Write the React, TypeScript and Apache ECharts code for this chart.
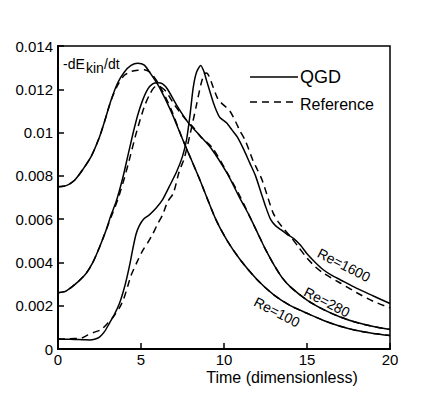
import React, { useEffect, useRef } from "react";
import * as echarts from "echarts";

const xTicks = [0, 5, 10, 15, 20];
const yMax = 0.014;

const re100QGD: [number, number][] = [
  [0, 0.0075], [0.5, 0.00755], [1, 0.0078], [1.5, 0.0083], [2, 0.0089], [2.5, 0.0098],
  [2.8, 0.0105], [3.2, 0.0115], [3.6, 0.0123], [4, 0.0128], [4.4, 0.0131], [4.8, 0.0132],
  [5.2, 0.01312], [5.6, 0.0127], [6.1, 0.0121], [6.8, 0.011], [7.5, 0.0097], [8.5, 0.0079],
  [9.5, 0.006], [10.2, 0.005], [11, 0.0041], [12, 0.0032], [13, 0.0025], [14, 0.002],
  [15, 0.00165], [16, 0.00132], [17, 0.00105], [18, 0.00085], [19, 0.00072], [20, 0.00062],
];
const re100Ref: [number, number][] = [
  [0, 0.0075], [0.5, 0.00755], [1, 0.0078], [1.5, 0.0083], [2, 0.0089], [2.5, 0.0098],
  [2.8, 0.0105], [3.2, 0.0115], [3.6, 0.0122], [4, 0.01265], [4.4, 0.01282], [4.8, 0.01288],
  [5.2, 0.0129], [5.6, 0.01275], [6.1, 0.0122], [6.8, 0.0111], [7.5, 0.0097], [8.5, 0.0079],
  [9.5, 0.006], [10.2, 0.005], [11, 0.0041], [12, 0.0032], [13, 0.0025], [14, 0.002],
  [15, 0.00165], [16, 0.00132], [17, 0.00105], [18, 0.00085], [19, 0.00072], [20, 0.00062],
];
const re280QGD: [number, number][] = [
  [0, 0.0026], [0.4, 0.00265], [0.8, 0.00285], [1.2, 0.0031], [1.7, 0.0035], [2.1, 0.004],
  [2.5, 0.0047], [2.9, 0.0055], [3.2, 0.0062], [3.5, 0.0068], [3.9, 0.0079], [4.2, 0.0089],
  [4.5, 0.0099], [4.8, 0.0108], [5.1, 0.0115], [5.4, 0.012], [5.7, 0.01225], [6, 0.0123],
  [6.3, 0.01225], [6.6, 0.012], [7.2, 0.0112], [7.9, 0.0104], [8.5, 0.0099], [9.2, 0.0093],
  [10.2, 0.0081], [11, 0.0069], [11.5, 0.0062], [12, 0.0054], [12.5, 0.0046], [13, 0.0039],
  [13.5, 0.0033], [14, 0.00287], [15, 0.00226], [16, 0.00182], [17, 0.00148], [18, 0.00122],
  [19, 0.00104], [20, 0.0009],
];
const re280Ref: [number, number][] = [
  [0, 0.0026], [0.4, 0.00265], [0.8, 0.00285], [1.2, 0.0031], [1.7, 0.0035], [2.1, 0.004],
  [2.5, 0.0047], [2.9, 0.0055], [3.3, 0.0063], [3.6, 0.0069], [4, 0.0079], [4.35, 0.0089],
  [4.65, 0.0098], [4.95, 0.0106], [5.25, 0.0113], [5.55, 0.0118], [5.85, 0.0121], [6.15, 0.0121],
  [6.5, 0.0119], [7, 0.0113], [7.6, 0.0107], [8.2, 0.0102], [8.6, 0.0098], [9.3, 0.0093],
  [10.3, 0.008], [11, 0.007], [11.5, 0.0062], [12, 0.0054], [12.5, 0.0046], [13, 0.0039],
  [13.5, 0.0033], [14, 0.00287], [15, 0.00226], [16, 0.00182], [17, 0.00148], [18, 0.00122],
  [19, 0.00104], [20, 0.0009],
];
const re1600QGD: [number, number][] = [
  [0, 0.00046], [0.5, 0.00045], [1, 0.00044], [1.5, 0.00043], [1.9, 0.00042], [2.2, 0.00045],
  [2.5, 0.00055], [2.8, 0.0008], [3.1, 0.0012], [3.4, 0.0016], [3.7, 0.0021], [3.95, 0.0027],
  [4.15, 0.0033], [4.35, 0.004], [4.5, 0.0046], [4.7, 0.0053], [4.9, 0.0057], [5.15, 0.006],
  [5.5, 0.0062], [5.9, 0.0065], [6.3, 0.0069], [6.7, 0.0075], [7.15, 0.0082], [7.5, 0.0089],
  [7.75, 0.0097], [7.95, 0.0108], [8.15, 0.0121], [8.35, 0.0128], [8.6, 0.0131], [8.8, 0.0128],
  [8.95, 0.0124], [9.15, 0.0119], [9.35, 0.0114], [9.55, 0.011], [9.75, 0.0107], [10.15, 0.01045],
  [10.5, 0.0101], [10.8, 0.0098], [11.2, 0.0092], [11.55, 0.0086], [11.9, 0.008], [12.2, 0.0073],
  [12.5, 0.0066], [12.8, 0.006], [13.1, 0.0057], [13.45, 0.0055], [13.8, 0.0053], [14.2, 0.0051],
  [14.6, 0.0048], [15, 0.0044], [15.5, 0.004], [16, 0.00365], [16.5, 0.0034], [17, 0.0032],
  [18, 0.0028], [19, 0.00245], [20, 0.0021],
];
const re1600Ref: [number, number][] = [
  [0, 0.00046], [0.6, 0.00047], [1, 0.00048], [1.4, 0.0005], [1.8, 0.00065], [2.2, 0.00078],
  [2.6, 0.0009], [3, 0.0012], [3.35, 0.0015], [3.7, 0.0019], [3.95, 0.0023], [4.2, 0.0029],
  [4.4, 0.0034], [4.75, 0.004], [5.1, 0.00455], [5.4, 0.0049], [5.7, 0.0053], [5.95, 0.0057],
  [6.3, 0.0062], [6.6, 0.0068], [6.95, 0.0072], [7.3, 0.0082], [7.6, 0.0088], [7.95, 0.0099],
  [8.35, 0.0113], [8.6, 0.0122], [8.8, 0.0127], [8.95, 0.01275], [9.1, 0.0126], [9.3, 0.0122],
  [9.6, 0.0116], [9.8, 0.0114], [10.35, 0.011], [10.7, 0.0105], [10.95, 0.0101], [11.3, 0.0096],
  [11.75, 0.0087], [12, 0.0083], [12.3, 0.0078], [12.6, 0.0071], [12.95, 0.0063], [13.25, 0.0059],
  [13.55, 0.0056], [14, 0.0052], [14.5, 0.0047], [15, 0.0042], [15.5, 0.0038], [16, 0.0035],
  [17, 0.00305], [18, 0.0026], [19, 0.0022], [20, 0.0019],
];

const legendLabels = ["QGD", "Reference"];
const curveLabels = ["Re=100", "Re=280", "Re=1600"];
const xName = "Time (dimensionless)";
const FONT = "'Liberation Sans', Arial, sans-serif";

export default function App() {
  const ref = useRef<HTMLDivElement>(null);
  useEffect(() => {
    if (!ref.current) return;
    const chart = echarts.init(ref.current, null, { renderer: "svg" });
    const solid = (data: [number, number][]) => ({
      type: "line",
      data,
      symbol: "none",
      smooth: 0.25,
      lineStyle: { color: "#000", width: 1.5, type: "solid" },
      z: 3,
    });
    const dashed = (data: [number, number][]) => ({
      type: "line",
      data,
      symbol: "none",
      smooth: 0.25,
      lineStyle: { color: "#000", width: 1.5, type: [7, 5] },
      z: 2,
    });
    const rot = (-27 * Math.PI) / 180;
    chart.setOption({
      animation: false,
      backgroundColor: "#fff",
      grid: {
        left: 58, right: 54, top: 46, bottom: 45,
        show: true, borderColor: "#000", borderWidth: 1.5, backgroundColor: "transparent",
      },
      xAxis: {
        type: "value", min: xTicks[0], max: xTicks[xTicks.length - 1], interval: 5,
        axisLine: { show: true, lineStyle: { color: "#000", width: 2 } },
        axisTick: { show: true, inside: true, length: 6, lineStyle: { color: "#000", width: 1.5 } },
        splitLine: { show: false },
        axisLabel: { color: "#000", fontSize: 15, fontFamily: FONT, margin: 3 },
      },
      yAxis: {
        type: "value", min: 0, max: yMax, interval: 0.002,
        axisLine: { show: true, lineStyle: { color: "#000", width: 2 } },
        axisTick: { show: true, inside: true, length: 6, lineStyle: { color: "#000", width: 1.5 } },
        splitLine: { show: false },
        axisLabel: { color: "#000", fontSize: 15, fontFamily: FONT, margin: 5 },
      },
      series: [
        solid(re100QGD), dashed(re100Ref),
        solid(re280QGD), dashed(re280Ref),
        solid(re1600QGD), dashed(re1600Ref),
      ],
      graphic: [
        { type: "text", left: 63, top: 57, style: { text: "-dE", fontSize: 14, fontFamily: FONT, fill: "#000" } },
        { type: "text", left: 86, top: 61, style: { text: "kin", fontSize: 14, fontFamily: FONT, fill: "#000" } },
        { type: "text", left: 104, top: 57, style: { text: "/dt", fontSize: 14, fontFamily: FONT, fill: "#000" } },
        { type: "line", shape: { x1: 250, y1: 77, x2: 298, y2: 77 }, style: { stroke: "#000", lineWidth: 1.5 } },
        { type: "line", shape: { x1: 250, y1: 102, x2: 298, y2: 102 }, style: { stroke: "#000", lineWidth: 1.5, lineDash: [7, 5] } },
        { type: "text", x: 300, y: 77, style: { text: legendLabels[0], fontSize: 18, fontFamily: FONT, fill: "#000", verticalAlign: "middle" } },
        { type: "text", x: 300, y: 104, style: { text: legendLabels[1], fontSize: 16, fontFamily: FONT, fill: "#000", verticalAlign: "middle" } },
        { type: "text", x: 282, y: 377, style: { text: xName, fontSize: 16, fontFamily: FONT, fill: "#000", align: "center", verticalAlign: "middle" } },
        { type: "text", x: 277, y: 312, rotation: rot, style: { text: curveLabels[0], fontSize: 14, fontFamily: FONT, fill: "#000", align: "center", verticalAlign: "middle" } },
        { type: "text", x: 327, y: 302, rotation: rot, style: { text: curveLabels[1], fontSize: 14, fontFamily: FONT, fill: "#000", align: "center", verticalAlign: "middle" } },
        { type: "text", x: 344, y: 265, rotation: rot, style: { text: curveLabels[2], fontSize: 14, fontFamily: FONT, fill: "#000", align: "center", verticalAlign: "middle" } },
      ],
    });
    return () => chart.dispose();
  }, []);
  return (
    <div
      ref={ref}
      style={{ position: "absolute", left: 0, top: 0, width: 444, height: 394, background: "#fff" }}
    />
  );
}
